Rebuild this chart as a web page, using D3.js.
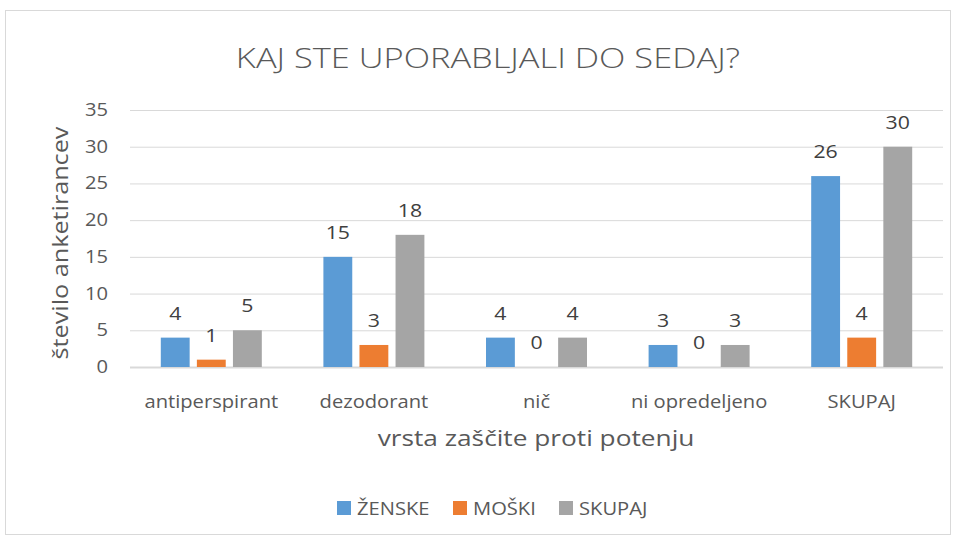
<!DOCTYPE html>
<html><head><meta charset="utf-8">
<script src="https://cdn.jsdelivr.net/npm/d3@7"></script>
<style>body{margin:0;background:#fff}svg{display:block}text{font-family:"Open Sans",sans-serif;fill:#595959}</style>
</head><body><svg id="c" width="957" height="539"></svg>
<script>
const categories = ["antiperspirant","dezodorant","nič","ni opredeljeno","SKUPAJ"];
const seriesNames = ["ŽENSKE","MOŠKI","SKUPAJ"];
const zenske = [4,15,4,3,26];
const moski = [1,3,0,0,4];
const skupaj = [5,18,4,3,30];
const yTicks = [0,5,10,15,20,25,30,35];
const colors = ["#5B9BD5","#ED7D31","#A5A5A5"];
const title = "KAJ STE UPORABLJALI DO SEDAJ?";
const xTitle = "vrsta zaščite proti potenju";
const yTitle = "število anketirancev";

const svg = d3.select("#c");
svg.append("rect").attr("x",5.5).attr("y",10.5).attr("width",945).attr("height",524).attr("fill","#fff").attr("stroke","#D9D9D9");

const m = {l:130,r:943,t:110,b:367};
const x = d3.scaleBand().domain(categories).range([m.l,m.r]);
const x1 = d3.scaleBand().domain(seriesNames).range([0,101]).paddingInner(0.2);
const y = d3.scaleLinear().domain([0,35]).range([m.b,m.t]);

function htext(g, tx, ty, anchor, size, sx){
  return g.append("text").attr("transform",`translate(${tx},${ty}) scale(${sx||1.12},1)`)
    .attr("text-anchor",anchor).attr("font-size",size);
}

svg.append("g").selectAll("line").data(yTicks).join("line")
  .attr("x1",m.l).attr("x2",m.r).attr("y1",d=>y(d)+0.5).attr("y2",d=>y(d)+0.5)
  .attr("stroke","#D9D9D9").attr("stroke-width",d=>d===0?2:1);

const yg = svg.append("g");
yTicks.forEach(d=>htext(yg,108,y(d)+6,"end",18).text(d));

const data = [zenske,moski,skupaj];
const off = (x.bandwidth()-101)/2;
data.forEach((vals,si)=>{
  const g = svg.append("g");
  g.selectAll("rect").data(vals).join("rect")
    .attr("x",(d,i)=>x(categories[i])+off+x1(seriesNames[si]))
    .attr("width",x1.bandwidth())
    .attr("y",d=>y(d)).attr("height",d=>y(0)-y(d)).attr("fill",colors[si]);
  vals.forEach((d,i)=>{
    htext(g,x(categories[i])+off+x1(seriesNames[si])+x1.bandwidth()/2,y(d)-18,"middle",19)
      .style("fill","#404040").text(d);
  });
});

const cg = svg.append("g");
categories.forEach(c=>htext(cg,x(c)+x.bandwidth()/2,408,"middle",18).text(c));

htext(svg,536,446,"middle",21,1.25).text(xTitle);
svg.append("text").attr("transform","translate(68,243) rotate(-90) scale(1.2,1)").attr("text-anchor","middle").attr("font-size",21).text(yTitle);
htext(svg,488,68,"middle",28,1.23).attr("font-weight",300).text(title);

const lx = [337,453,559];
const lg = svg.append("g");
seriesNames.forEach((s,i)=>{
  lg.append("rect").attr("x",lx[i]).attr("y",501).attr("width",14).attr("height",14).attr("fill",colors[i]);
  htext(lg,lx[i]+20,515,"start",18).text(s);
});
</script></body></html>
